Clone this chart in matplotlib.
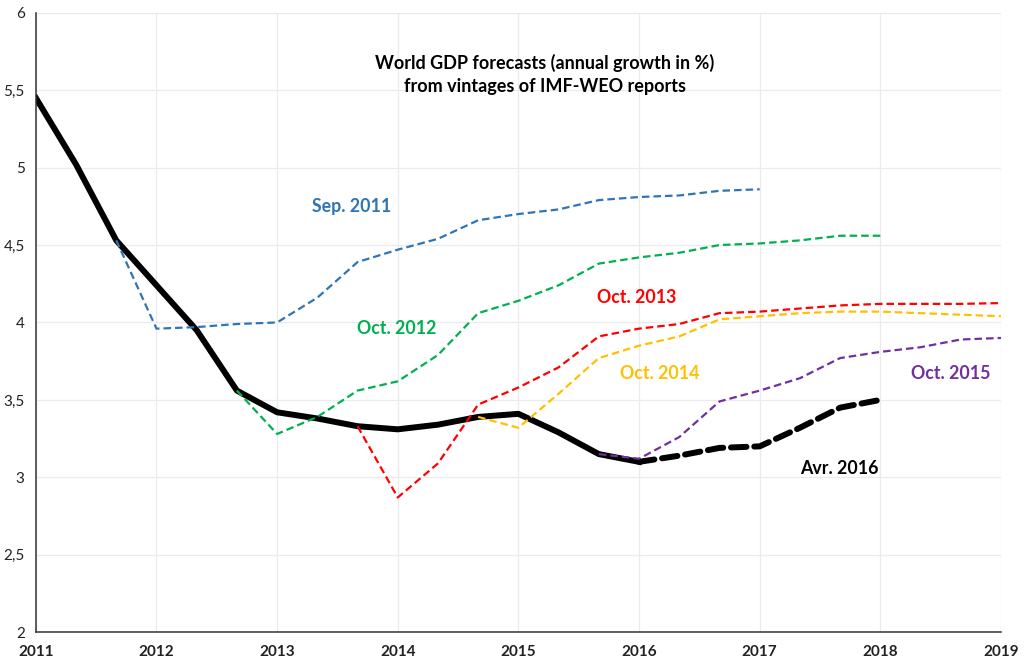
import numpy as np
import matplotlib
matplotlib.use('Agg')
import matplotlib.pyplot as plt
from matplotlib.ticker import FuncFormatter

# ─── DATA ─────────────────────────────────────────
# grid of periods (thirds of a year), 2011 -> 2019
periods = 2011 + np.arange(25) / 3

actual = [5.45, 5.02, 4.53, 4.24, 3.95, 3.56, 3.42, 3.38, 3.33, 3.31,
          3.34, 3.39, 3.41, 3.29, 3.15, 3.10]                # idx 0..15
avr2016 = [3.10, 3.14, 3.19, 3.20, 3.32, 3.45, 3.50]         # idx 15..21
sep2011 = [4.53, 3.96, 3.97, 3.99, 4.00, 4.16, 4.39, 4.47, 4.54, 4.66,
           4.70, 4.73, 4.79, 4.81, 4.82, 4.85, 4.86]         # idx 2..18
oct2012 = [3.56, 3.28, 3.39, 3.56, 3.62, 3.79, 4.06, 4.14, 4.24, 4.38,
           4.42, 4.45, 4.50, 4.51, 4.53, 4.56, 4.56]         # idx 5..21
oct2013 = [3.33, 2.87, 3.09, 3.47, 3.58, 3.71, 3.91, 3.96, 3.99, 4.06,
           4.07, 4.09, 4.11, 4.12, 4.12, 4.12, 4.125]        # idx 8..24
oct2014 = [3.39, 3.32, 3.54, 3.77, 3.85, 3.91, 4.02, 4.04, 4.06, 4.07,
           4.07, 4.06, 4.05, 4.04]                           # idx 11..24
oct2015 = [3.15, 3.12, 3.26, 3.49, 3.56, 3.64, 3.77, 3.81, 3.84, 3.89,
           3.90]                                             # idx 14..24

vintages = [
    ('Sep. 2011', sep2011, 2, '#2E75B6', (2013.62, 4.75)),
    ('Oct. 2012', oct2012, 5, '#00B050', (2013.99, 3.96)),
    ('Oct. 2013', oct2013, 8, '#FF0000', (2015.98, 4.16)),
    ('Oct. 2014', oct2014, 11, '#FFC000', (2016.17, 3.67)),
    ('Oct. 2015', oct2015, 14, '#7030A0', (2018.58, 3.67)),
]

years = list(range(2011, 2020))
yticks = [2, 2.5, 3, 3.5, 4, 4.5, 5, 5.5, 6]

plt.rcParams['font.family'] = ['Lato', 'DejaVu Sans']

# ─── FIGURE ───────────────────────────────────────
fig = plt.figure(figsize=(10.24, 6.69), dpi=100)
ax = fig.add_axes([0.035, 0.055, 0.9425, 0.926])

ax.plot(periods[:len(actual)], actual, color='black', lw=4.3,
        solid_joinstyle='round', zorder=2)
ax.plot(periods[15:15 + len(avr2016)], avr2016, color='black', lw=4.3,
        dashes=(2.6, 1.3), dash_capstyle='round', zorder=2)

for name, vals, start, col, pos in vintages:
    ax.plot(periods[start:start + len(vals)], vals, color=col, lw=1.6,
            dashes=(3.4, 1.8), zorder=3)
    ax.text(pos[0], pos[1], name, color=col, fontsize=12.8,
            fontweight='bold', ha='center', va='center')

ax.text(2017.66, 3.06, 'Avr. 2016', color='black', fontsize=12.8,
        fontweight='bold', ha='center', va='center')
ax.text(2015.22, 5.6, 'World GDP forecasts (annual growth in %)\n'
        'from vintages of IMF-WEO reports', color='black', fontsize=13,
        fontweight='bold', ha='center', va='center', linespacing=1.4)

# ─── AXES ─────────────────────────────────────────
ax.set_xlim(2011, 2019)
ax.set_ylim(2, 6)
ax.set_xticks(years)
ax.set_yticks(yticks)
ax.yaxis.set_major_formatter(FuncFormatter(
    lambda v, p: f'{v:g}'.replace('.', ',')))
for lab in ax.get_xticklabels():
    lab.set_fontweight('bold')
ax.tick_params(axis='both', length=0, labelsize=11, colors='#222222')
ax.tick_params(axis='x', pad=9)
ax.tick_params(axis='y', pad=8)
ax.grid(True, color='#EBEBEB', lw=0.9)
ax.set_axisbelow(True)
for s in ['top', 'right']:
    ax.spines[s].set_visible(False)
for s in ['left', 'bottom']:
    ax.spines[s].set_color('#333333')
    ax.spines[s].set_linewidth(1.1)

plt.savefig('out.png', dpi=100)
